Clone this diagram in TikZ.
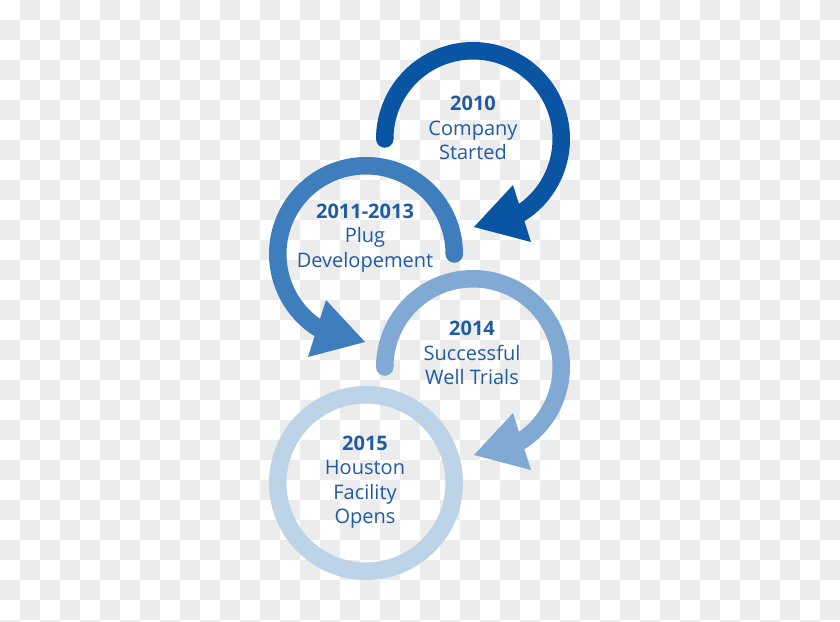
\documentclass[tikz,border=0pt]{standalone}
\usepackage{fontspec}
\setmainfont{Open Sans}
\definecolor{bggray}{HTML}{ECECEC}
\definecolor{ringA}{HTML}{0A55A3}
\definecolor{ringB}{HTML}{3F7EBC}
\definecolor{ringC}{HTML}{80A9D3}
\definecolor{ringD}{HTML}{BDD3E7}
\definecolor{txtblue}{HTML}{1F5CA2}
\newcommand\ringarrow[3]{%
  \begin{scope}[shift={(#1)}, xscale=#3]
    \draw[line width=17.5pt, #2] (180:88.25) arc[start angle=180, end angle=418, radius=88.25];
    \fill[#2] (180:88.25) circle[radius=8.75];
    \fill[#2] (40,46) -- (1,88) -- (58,103) -- cycle;
  \end{scope}}
\begin{document}
\begin{tikzpicture}[x=1pt,y=-1pt,
  label/.style={font=\fontsize{20}{24.5}\selectfont, align=center, text=txtblue, inner sep=0pt}]
\useasboundingbox (0,0) rectangle (840,621);
\clip (0,0) rectangle (840,621);
\fill[white] (0,0) rectangle (840,621);
\foreach \j in {0,2,...,30} \foreach \i in {1,3,...,41} \fill[bggray] (20*\i,20*\j) rectangle ++(20,20);
\foreach \j in {1,3,...,31} \foreach \i in {0,2,...,40} \fill[bggray] (20*\i,20*\j) rectangle ++(20,20);
% ring centres
\coordinate (c1) at (473,139);
\coordinate (c2) at (366,254);
\coordinate (c3) at (473,367);
\coordinate (c4) at (366,483);
% rings
\ringarrow{c1}{ringA}{1}
\ringarrow{c2}{ringB}{-1}
\ringarrow{c3}{ringC}{1}
\draw[line width=17.5pt, ringD] (c4) circle[radius=88.25];
% labels
\node[label] (t1) at (473,128) {\textbf{2010}\\Company\\Started};
\node[label] (t2) at (365,238) {\textbf{2011-2013}\\Plug\\Developement};
\node[label] (t3) at (472,353) {\textbf{2014}\\Successful\\Well Trials};
\node[label] (t4) at (365,482) {\textbf{2015}\\Houston\\Facility\\Opens};
\end{tikzpicture}
\end{document}
